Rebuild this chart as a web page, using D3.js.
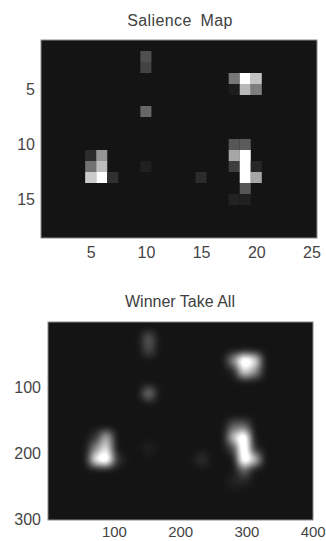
<!DOCTYPE html>
<html>
<head>
<meta charset="utf-8">
<script src="https://cdn.jsdelivr.net/npm/d3@7"></script>
<style>
  body { margin: 0; background: #fff; }
  svg { display: block; }
  text { font-family: "Liberation Sans", Arial, sans-serif; }
</style>
</head>
<body>
<svg id="chart" width="326" height="541"></svg>
<script>
// salience map: 18 rows x 25 columns, only non-zero cells listed
const nRows = 18;
const nCols = 25;
const cellRow   = [2,    3,    7,    12,   4,    4,    4,    5,    5,    5,
                   10,   10,   11,   11,   12,   12,   12,   13,   13,   14,   15,   15,
                   11,   11,   12,   12,   13,   13,   13,   13];
const cellCol   = [10,   10,   10,   10,   18,   19,   20,   18,   19,   20,
                   18,   19,   18,   19,   18,   19,   20,   19,   20,   19,   18,   19,
                   5,    6,    5,    6,    5,    6,    7,    15];
const cellValue = [0.25, 0.2,  0.35, 0.05, 0.42, 1.0,  0.75, 0.04, 0.7,  0.45,
                   0.28, 0.3,  0.62, 1.0,  0.18, 1.0,  0.08, 1.0,  0.62, 0.28, 0.06, 0.05,
                   0.1,  0.55, 0.4,  0.72, 0.78, 1.0,  0.12, 0.1];

const salXTicks = [5, 10, 15, 20, 25];
const salYTicks = [5, 10, 15];
const wtaXTicks = [100, 200, 300, 400];
const wtaYTicks = [100, 200, 300];
const wtaWidth = 400;
const wtaHeight = 300;

const bg = '#141414';
const gray = d3.interpolateRgb(bg, '#ffffff');

const cells = cellValue.map((v, i) => ({ r: cellRow[i], c: cellCol[i], v: v }));

const svg = d3.select('#chart');

function styleAxis(g, size) {
    g.select('.domain').remove();
    g.selectAll('text').attr('font-size', (size || 16) + 'px').attr('fill', '#454545');
}

// ---- Salience Map ----
const sx = d3.scaleLinear().domain([0.5, nCols + 0.5]).range([41, 317]);
const sy = d3.scaleLinear().domain([0.5, nRows + 0.5]).range([40, 238]);

svg.append('rect')
    .attr('x', sx(0.5)).attr('y', sy(0.5))
    .attr('width', sx(nCols + 0.5) - sx(0.5))
    .attr('height', sy(nRows + 0.5) - sy(0.5))
    .attr('fill', bg);

svg.append('g').selectAll('rect.cell')
    .data(cells)
    .enter().append('rect')
    .attr('class', 'cell')
    .attr('x', d => sx(d.c - 0.5))
    .attr('y', d => sy(d.r - 0.5))
    .attr('width', sx(1.5) - sx(0.5))
    .attr('height', sy(1.5) - sy(0.5))
    .attr('fill', d => gray(d.v));

svg.append('rect')
    .attr('x', sx(0.5)).attr('y', sy(0.5))
    .attr('width', sx(nCols + 0.5) - sx(0.5))
    .attr('height', sy(nRows + 0.5) - sy(0.5))
    .attr('fill', 'none').attr('stroke', '#8a8a8a').attr('stroke-width', 1);

svg.append('g')
    .attr('transform', `translate(0,${sy(nRows + 0.5)})`)
    .call(d3.axisBottom(sx).tickValues(salXTicks).tickSize(0).tickPadding(9))
    .call(g => styleAxis(g, 16));

svg.append('g')
    .attr('transform', `translate(${sx(0.5)},0)`)
    .call(d3.axisLeft(sy).tickValues(salYTicks).tickSize(0).tickPadding(6))
    .call(g => styleAxis(g, 16));

svg.append('text')
    .attr('x', 180).attr('y', 26)
    .attr('text-anchor', 'middle')
    .attr('font-size', '16px').attr('fill', '#404040')
    .attr('letter-spacing', '0.4px')
    .attr('word-spacing', '4px')
    .text('Salience Map');

// ---- Winner Take All ----
const wx = d3.scaleLinear().domain([0.5, wtaWidth + 0.5]).range([48, 313]);
const wy = d3.scaleLinear().domain([0.5, wtaHeight + 0.5]).range([322, 520]);
const colW = wtaWidth / nCols;
const rowH = wtaHeight / nRows;

const defs = svg.append('defs');
defs.append('clipPath').attr('id', 'wtaClip')
    .append('rect')
    .attr('x', wx(0.5)).attr('y', wy(0.5))
    .attr('width', wx(wtaWidth + 0.5) - wx(0.5))
    .attr('height', wy(wtaHeight + 0.5) - wy(0.5));

const blur = defs.append('filter').attr('id', 'wtaBlur')
    .attr('x', '-50%').attr('y', '-50%').attr('width', '200%').attr('height', '200%');
blur.append('feGaussianBlur').attr('stdDeviation', 4).attr('result', 'b');
const ct = blur.append('feComponentTransfer').attr('in', 'b');
ct.append('feFuncA').attr('type', 'linear').attr('slope', 1.3);

svg.append('rect')
    .attr('x', wx(0.5)).attr('y', wy(0.5))
    .attr('width', wx(wtaWidth + 0.5) - wx(0.5))
    .attr('height', wy(wtaHeight + 0.5) - wy(0.5))
    .attr('fill', bg);

svg.append('g').attr('clip-path', 'url(#wtaClip)')
    .append('g').attr('filter', 'url(#wtaBlur)')
    .selectAll('rect.wcell')
    .data(cells)
    .enter().append('rect')
    .attr('class', 'wcell')
    .attr('x', d => wx((d.c - 1) * colW + 0.5))
    .attr('y', d => wy((d.r - 1) * rowH + 0.5))
    .attr('width', wx(colW + 0.5) - wx(0.5))
    .attr('height', wy(rowH + 0.5) - wy(0.5))
    .attr('fill', '#ffffff')
    .attr('fill-opacity', d => d.v);

svg.append('rect')
    .attr('x', wx(0.5)).attr('y', wy(0.5))
    .attr('width', wx(wtaWidth + 0.5) - wx(0.5))
    .attr('height', wy(wtaHeight + 0.5) - wy(0.5))
    .attr('fill', 'none').attr('stroke', '#8a8a8a').attr('stroke-width', 1);

svg.append('g')
    .attr('transform', `translate(0,${wy(wtaHeight + 0.5)})`)
    .call(d3.axisBottom(wx).tickValues(wtaXTicks).tickSize(0).tickPadding(6))
    .call(g => styleAxis(g, 15));

svg.append('g')
    .attr('transform', `translate(${wx(0.5)},0)`)
    .call(d3.axisLeft(wy).tickValues(wtaYTicks).tickSize(0).tickPadding(7))
    .call(g => styleAxis(g, 16));

svg.append('text')
    .attr('x', 180).attr('y', 307)
    .attr('text-anchor', 'middle')
    .attr('font-size', '16px').attr('fill', '#404040')
    .text('Winner Take All');
</script>
</body>
</html>
